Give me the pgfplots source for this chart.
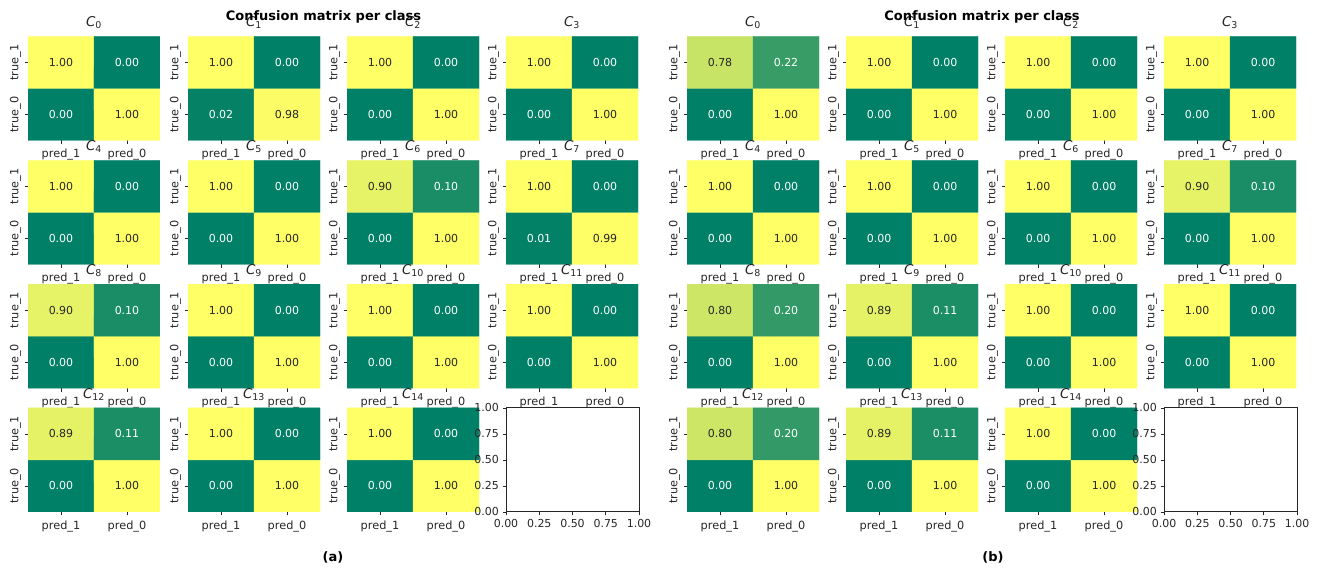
\documentclass[border=0pt]{standalone}
\usepackage{pgfplots}
\pgfplotsset{compat=1.18}
\usepackage{fontspec}
\setmainfont{DejaVu Sans}
\definecolor{txtdark}{HTML}{262626}
\definecolor{spine}{HTML}{262626}
\pgfplotsset{
  colormap={summer}{rgb=(0,0.5,0.4) rgb=(1,1,0.4)},
  cmbase/.style={
    width=132pt, height=104pt, scale only axis,
    anchor=north west,
    xmin=0,xmax=2,ymin=0,ymax=2,
    axis line style={draw=none},
    xtick={0.5,1.5}, ytick={0.5,1.5},
    xticklabels={pred\_1,pred\_0}, yticklabels={true\_0,true\_1},
    tick pos=left,
    tick align=outside, major tick length=3.5pt,
    tick style={draw=spine, line width=0.6pt},
    ticklabel style={font=\fontsize{11.3}{13}\selectfont, text=txtdark},
    xticklabel style={yshift=-1.5pt},
    yticklabel style={rotate=90, anchor=south},
    colormap name=summer, point meta min=0, point meta max=1,
    title style={font=\fontsize{13.5}{15}\selectfont, text=txtdark, yshift=-2pt},
  },
  emptyax/.style={
    width=133pt, height=104pt, scale only axis, anchor=north west,
    xmin=0,xmax=1,ymin=0,ymax=1,
    xtick={0,0.25,0.5,0.75,1}, ytick={0,0.25,0.5,0.75,1},
    tick align=outside, tick pos=left, major tick length=3.5pt,
    tick style={draw=spine, line width=0.6pt},
    axis line style={draw=spine, line width=0.8pt},
    ticklabel style={font=\fontsize{11}{13}\selectfont, text=txtdark},
    /pgf/number format/.cd, fixed, fixed zerofill, precision=2, assume math mode=true,
  },
}
% #1 left px, #2 top px, #3 class index, #4 t1p1, #5 t1p0, #6 t0p1, #7 t0p0
\newcommand{\cm}[7]{%
\begin{axis}[cmbase, at={(#1pt,{(570-#2)*1pt})}, title={\textit{C}\textsubscript{#3}}]
\addplot[matrix plot*, mesh/cols=2, point meta=explicit, mark=none]
  table[meta=v, row sep=\\] {x y v\\ 0.5 0.5 #6\\ 1.5 0.5 #7\\ 0.5 1.5 #4\\ 1.5 1.5 #5\\};
\addplot[draw=none, mark=none, point meta=explicit,
  visualization depends on={value \thisrow{v}\as\cv},
  nodes near coords={\ifdim\cv pt<0.5pt\color{white}\else\color{txtdark}\fi\pgfmathprintnumber[fixed,fixed zerofill,precision=2,assume math mode=true]{\cv}},
  nodes near coords align=center,
  every node near coord/.append style={font=\fontsize{11}{13}\selectfont}]
  table[meta=v, row sep=\\] {x y v\\ 0.5 0.5 #6\\ 1.5 0.5 #7\\ 0.5 1.5 #4\\ 1.5 1.5 #5\\};
\end{axis}}
\begin{document}
\begin{tikzpicture}
\path (0,0) rectangle (1318pt,570pt);
% ---------- panel (a) ----------
\cm{28}{36.5}{0}{1}{0}{0}{1}
\cm{188}{36.5}{1}{1}{0}{0.02}{0.98}
\cm{347}{36.5}{2}{1}{0}{0}{1}
\cm{506}{36.5}{3}{1}{0}{0}{1}
\cm{28}{160.3}{4}{1}{0}{0}{1}
\cm{188}{160.3}{5}{1}{0}{0}{1}
\cm{347}{160.3}{6}{0.90}{0.10}{0}{1}
\cm{506}{160.3}{7}{1}{0}{0.01}{0.99}
\cm{28}{284.1}{8}{0.90}{0.10}{0}{1}
\cm{188}{284.1}{9}{1}{0}{0}{1}
\cm{347}{284.1}{10}{1}{0}{0}{1}
\cm{506}{284.1}{11}{1}{0}{0}{1}
\cm{28}{407.9}{12}{0.89}{0.11}{0}{1}
\cm{188}{407.9}{13}{1}{0}{0}{1}
\cm{347}{407.9}{14}{1}{0}{0}{1}
\begin{axis}[emptyax, at={(506pt,{(570-407.9)*1pt})}]
\end{axis}
% ---------- panel (b) ----------
\cm{687}{36.5}{0}{0.78}{0.22}{0}{1}
\cm{846}{36.5}{1}{1}{0}{0}{1}
\cm{1005}{36.5}{2}{1}{0}{0}{1}
\cm{1164}{36.5}{3}{1}{0}{0}{1}
\cm{687}{160.3}{4}{1}{0}{0}{1}
\cm{846}{160.3}{5}{1}{0}{0}{1}
\cm{1005}{160.3}{6}{1}{0}{0}{1}
\cm{1164}{160.3}{7}{0.90}{0.10}{0}{1}
\cm{687}{284.1}{8}{0.80}{0.20}{0}{1}
\cm{846}{284.1}{9}{0.89}{0.11}{0}{1}
\cm{1005}{284.1}{10}{1}{0}{0}{1}
\cm{1164}{284.1}{11}{1}{0}{0}{1}
\cm{687}{407.9}{12}{0.80}{0.20}{0}{1}
\cm{846}{407.9}{13}{0.89}{0.11}{0}{1}
\cm{1005}{407.9}{14}{1}{0}{0}{1}
\begin{axis}[emptyax, at={(1164pt,{(570-407.9)*1pt})}]
\end{axis}
% ---------- titles ----------
\node[font=\bfseries\fontsize{13}{15}\selectfont, text=black] at (323.5pt,553pt) {Confusion matrix per class};
\node[font=\bfseries\fontsize{13}{15}\selectfont, text=black] at (982pt,553pt) {Confusion matrix per class};
\node[font=\bfseries\fontsize{13}{15}\selectfont, text=black] at (333pt,13pt) {(a)};
\node[font=\bfseries\fontsize{13}{15}\selectfont, text=black] at (993pt,13pt) {(b)};
\end{tikzpicture}
\end{document}
